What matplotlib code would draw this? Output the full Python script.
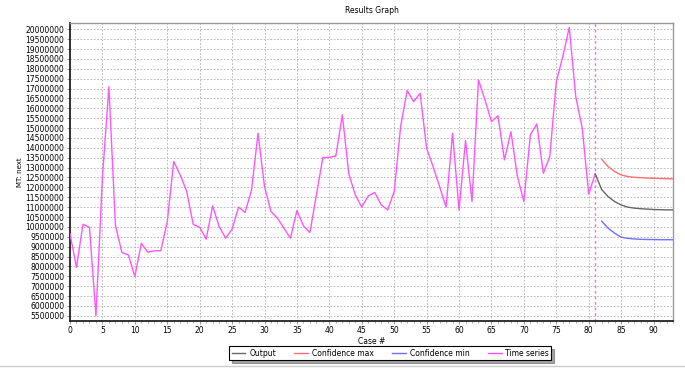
import matplotlib
matplotlib.use("Agg")
import matplotlib.pyplot as plt
from matplotlib.ticker import MultipleLocator, FuncFormatter

title = "Results Graph"
xlabel = "Case #"
ylabel = "MT: next"

ts_x = list(range(0, 82))
ts_y = [9.65, 7.95, 10.13, 9.98, 5.5, 12.5, 17.1, 10.1, 8.7, 8.58,
        7.49, 9.17, 8.72, 8.79, 8.79, 10.27, 13.31, 12.63, 11.79, 10.13,
        9.98, 9.38, 11.06, 10.02, 9.43, 9.88, 11.0, 10.73, 11.87, 14.74,
        12.04, 10.78, 10.44, 9.93, 9.43, 10.83, 10.05, 9.71, 11.62, 13.51,
        13.52, 13.59, 15.67, 12.68, 11.62, 11.0, 11.57, 11.74, 11.11, 10.86,
        11.79, 15.1, 16.9, 16.34, 16.76, 13.98, 13.05, 12.04, 11.0, 14.74,
        10.86, 14.37, 11.28, 17.44, 16.43, 15.33, 15.62, 13.39, 14.82, 12.55,
        11.28, 14.66, 15.21, 12.71, 13.56, 17.35, 18.62, 20.1, 16.6, 14.99,
        11.67, 12.68]
out_x = list(range(81, 94))
out_y = [12.68, 11.89, 11.53, 11.28, 11.11, 11.0, 10.95, 10.92, 10.9, 10.88,
         10.87, 10.86, 10.86]
cmax_x = list(range(82, 94))
cmax_y = [13.42, 13.05, 12.8, 12.63, 12.55, 12.51, 12.49, 12.47, 12.46, 12.45,
          12.44, 12.43]
cmin_x = list(range(82, 94))
cmin_y = [10.29, 9.93, 9.68, 9.48, 9.42, 9.39, 9.37, 9.36, 9.36, 9.35,
          9.35, 9.35]
split_x = 81

fig = plt.figure(figsize=(6.85, 3.68), dpi=100)
ax = fig.add_axes([0.1022, 0.1285, 0.8803, 0.8095])

M = 1e6
ax.plot(ts_x, [v * M for v in ts_y], color="#ff55ff", lw=1.0, label="Time series", zorder=3)
ax.plot(out_x, [v * M for v in out_y], color="#666666", lw=1.0, label="Output", zorder=3)
ax.plot(cmax_x, [v * M for v in cmax_y], color="#ff7070", lw=1.0, label="Confidence max", zorder=3)
ax.plot(cmin_x, [v * M for v in cmin_y], color="#7070ff", lw=1.0, label="Confidence min", zorder=3)
ax.axvline(split_x, color="#ff66ff", lw=1.0, ls=(0, (2, 2)), zorder=2)

ax.set_xlim(0, 93)
ax.set_ylim(5.25e6, 20.33e6)
ax.xaxis.set_major_locator(MultipleLocator(5))
ax.xaxis.set_minor_locator(MultipleLocator(1))
ax.yaxis.set_major_locator(MultipleLocator(500000))
ax.yaxis.set_major_formatter(FuncFormatter(lambda v, p: f"{int(round(v))}"))
ax.grid(True, which="major", color="#b0b0b0", ls=(0, (2, 2)), lw=0.6)
ax.tick_params(axis="both", which="major", labelsize=5.5, length=2, width=0.6, color="#888888", pad=2)
ax.tick_params(axis="both", which="minor", length=1.5, width=0.5, color="#888888")
for s in ["left", "bottom"]:
    ax.spines[s].set_color("#222222")
    ax.spines[s].set_linewidth(1.3)
for s in ["top", "right"]:
    ax.spines[s].set_color("#999999")
    ax.spines[s].set_linewidth(1.0)

ax.set_title(title, fontsize=5.5, pad=7)
ax.set_xlabel(xlabel, fontsize=5.5, labelpad=1)
ax.set_ylabel(ylabel, fontsize=5, labelpad=2)

handles, labels = ax.get_legend_handles_labels()
order = [1, 2, 3, 0]
leg = fig.legend([handles[i] for i in order], [labels[i] for i in order],
                 loc="center", bbox_to_anchor=(0.57, 0.04), ncol=4, fontsize=5.5,
                 frameon=True, fancybox=False, shadow=True, handlelength=1.8,
                 columnspacing=2.4, borderpad=0.3, handletextpad=0.5)
leg.get_frame().set_edgecolor("#000000")
leg.get_frame().set_linewidth(0.8)

fig.add_artist(plt.Line2D([0.0, 1.0], [0.005, 0.005], transform=fig.transFigure, color="#cccccc", lw=1))

fig.savefig("out.png", dpi=100)
